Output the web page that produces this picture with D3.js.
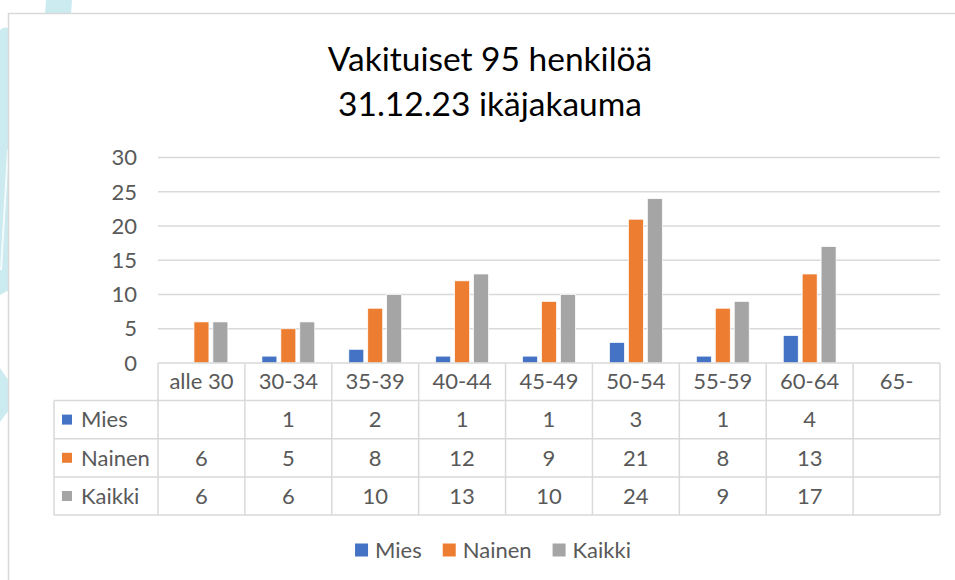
<!DOCTYPE html>
<html>
<head>
<meta charset="utf-8">
<script src="https://cdn.jsdelivr.net/npm/d3@7"></script>
<style>
  html, body { margin: 0; padding: 0; background: #fff; }
  svg { display: block; }
</style>
</head>
<body>
<svg id="chart" width="955" height="580"></svg>
<script>
// data
const categories = ["alle 30", "30-34", "35-39", "40-44", "45-49", "50-54", "55-59", "60-64", "65-"];
const seriesNames = ["Mies", "Nainen", "Kaikki"];
const mies   = [null, 1, 2, 1, 1, 3, 1, 4, null];
const nainen = [6, 5, 8, 12, 9, 21, 8, 13, null];
const kaikki = [6, 6, 10, 13, 10, 24, 9, 17, null];
const yTicks = [0, 5, 10, 15, 20, 25, 30];
const titleLines = ["Vakituiset 95 henkilöä", "31.12.23 ikäjakauma"];

const seriesValues = { "Mies": mies, "Nainen": nainen, "Kaikki": kaikki };
const colors = { "Mies": "#4472C4", "Nainen": "#ED7D31", "Kaikki": "#A5A5A5" };

const FONT = "Lato, 'Open Sans', sans-serif";
const FS = "22px";
const TEXT = "#595959";
const GRID = "#D9D9D9";

const svg = d3.select("#chart");

// faint background decoration behind the chart frame
const deco = svg.append("g").attr("fill", "#CBEBF1");
deco.append("path").attr("d", "M46,0 L72,0 L71,14 L45,14 Z");
deco.append("path").attr("d", "M0,30 C3,27 6,27 9,28 L9,290 L0,295 Z");
deco.append("path").attr("d", "M0,368 L9,381 L9,410 L0,422 Z");
svg.append("line").attr("x1", 8).attr("y1", 150).attr("x2", 1).attr("y2", 270)
  .attr("stroke", "#fff").attr("stroke-width", 2).attr("opacity", 0.8);

// chart area frame (runs past the right and bottom edges)
svg.append("rect")
  .attr("x", 8.5).attr("y", 13.5).attr("width", 1000).attr("height", 700)
  .attr("fill", "#fff").attr("stroke", GRID).attr("stroke-width", 1.5);

// title
svg.append("text")
  .attr("x", 490).attr("y", 71)
  .attr("text-anchor", "middle")
  .style("font-family", FONT).style("font-size", "33.5px").attr("fill", "#000")
  .selectAll("tspan").data(titleLines).join("tspan")
  .attr("x", 490).attr("dy", (d, i) => i ? 45 : 0)
  .text(d => d);

// plot geometry
const L = 158, R = 940, TOP = 157.6, BASE = 363;
const labelLeft = 54;
const headerH = 37.5, rowH = 38.2;

const x0 = d3.scaleBand().domain(categories).range([L, R]).padding(0);
const x1 = d3.scaleBand().domain(seriesNames).range([0, x0.bandwidth()])
  .paddingInner(0.21).paddingOuter(0.9);
const y = d3.scaleLinear().domain([0, 30]).range([BASE, TOP]);

// gridlines
svg.append("g").selectAll("line").data(yTicks.filter(d => d > 0)).join("line")
  .attr("x1", L).attr("x2", R)
  .attr("y1", d => y(d)).attr("y2", d => y(d))
  .attr("stroke", GRID).attr("stroke-width", 1.5);

// y tick labels
svg.append("g").selectAll("text").data(yTicks).join("text")
  .attr("x", 137).attr("y", d => y(d))
  .attr("dy", "0.35em").attr("text-anchor", "end")
  .style("font-family", FONT).style("font-size", FS).attr("fill", TEXT)
  .text(d => d);

// bars
const bars = svg.append("g");
seriesNames.forEach(s => {
  const vals = seriesValues[s];
  bars.append("g").selectAll("rect")
    .data(categories.map((c, i) => ({ c, v: vals[i] })).filter(d => d.v != null))
    .join("rect")
    .attr("x", d => x0(d.c) + x1(s))
    .attr("width", x1.bandwidth())
    .attr("y", d => y(d.v))
    .attr("height", d => y(0) - y(d.v))
    .attr("fill", colors[s])
    .attr("stroke", "#fff").attr("stroke-width", 0.7);
});

// data table
const table = svg.append("g");
const rowTop = i => BASE + headerH + i * rowH;
const tableBottom = rowTop(seriesNames.length);

// horizontal lines
table.append("line")
  .attr("x1", L).attr("x2", R).attr("y1", BASE).attr("y2", BASE)
  .attr("stroke", GRID).attr("stroke-width", 1.5);
table.selectAll("line.h").data(d3.range(seriesNames.length + 1)).join("line")
  .attr("class", "h")
  .attr("x1", labelLeft).attr("x2", R)
  .attr("y1", i => rowTop(i)).attr("y2", i => rowTop(i))
  .attr("stroke", GRID).attr("stroke-width", 1.5);

// vertical lines
table.append("line")
  .attr("x1", labelLeft).attr("x2", labelLeft).attr("y1", rowTop(0)).attr("y2", tableBottom)
  .attr("stroke", GRID).attr("stroke-width", 1.5);
table.selectAll("line.v").data(categories.concat(["end"])).join("line")
  .attr("class", "v")
  .attr("x1", d => d === "end" ? R : x0(d)).attr("x2", d => d === "end" ? R : x0(d))
  .attr("y1", BASE).attr("y2", tableBottom)
  .attr("stroke", GRID).attr("stroke-width", 1.5);

// category header
table.selectAll("text.cat").data(categories).join("text")
  .attr("class", "cat")
  .attr("x", d => x0(d) + x0.bandwidth() / 2)
  .attr("y", BASE + headerH / 2).attr("dy", "0.35em")
  .attr("text-anchor", "middle")
  .style("font-family", FONT).style("font-size", FS).attr("fill", TEXT)
  .text(d => d);

// series rows
seriesNames.forEach((s, r) => {
  const cy = rowTop(r) + rowH / 2;
  table.append("rect")
    .attr("x", 62).attr("y", cy - 5).attr("width", 10).attr("height", 10)
    .attr("fill", colors[s]);
  table.append("text")
    .attr("x", 81).attr("y", cy).attr("dy", "0.35em")
    .style("font-family", FONT).style("font-size", FS).attr("fill", TEXT)
    .text(s);
  table.append("g").selectAll("text")
    .data(categories.map((c, i) => ({ c, v: seriesValues[s][i] })).filter(d => d.v != null))
    .join("text")
    .attr("x", d => x0(d.c) + x0.bandwidth() / 2)
    .attr("y", cy).attr("dy", "0.35em")
    .attr("text-anchor", "middle")
    .style("font-family", FONT).style("font-size", FS).attr("fill", TEXT)
    .text(d => d.v);
});

// legend, centred under the chart
const legend = svg.append("g");
let lx = 0;
seriesNames.forEach(s => {
  const item = legend.append("g").attr("transform", `translate(${lx},0)`);
  item.append("rect").attr("x", 0).attr("y", -6.5).attr("width", 13).attr("height", 13)
    .attr("fill", colors[s]);
  const t = item.append("text").attr("x", 20).attr("y", 0).attr("dy", "0.35em")
    .style("font-family", FONT).style("font-size", FS).attr("fill", TEXT)
    .text(s);
  lx += 20 + t.node().getComputedTextLength() + 21;
});
const legendW = lx - 21;
legend.attr("transform", `translate(${493 - legendW / 2},550)`);
</script>
</body>
</html>
